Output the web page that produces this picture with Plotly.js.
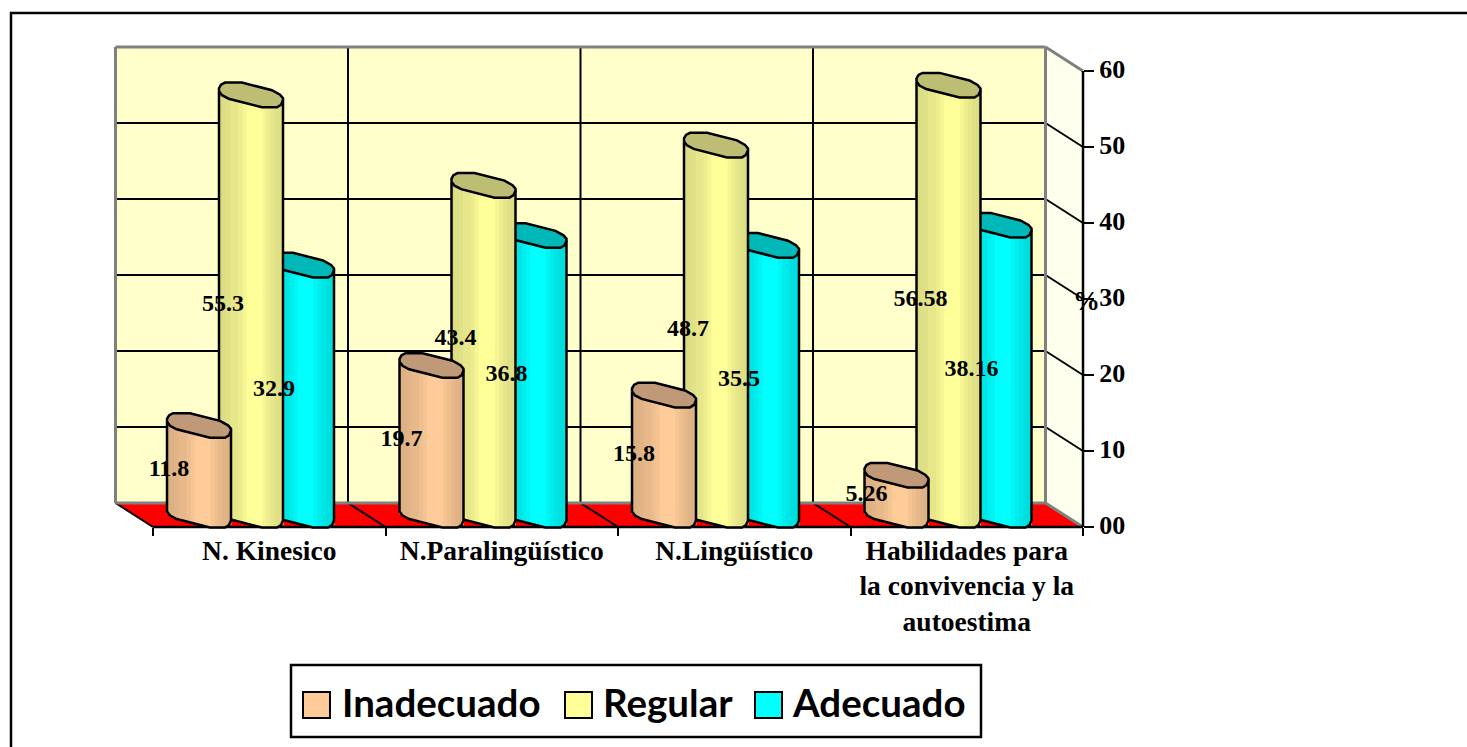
<!DOCTYPE html>
<html>
<head>
<meta charset="utf-8">
<script src="https://cdn.plot.ly/plotly-3.0.1.min.js"></script>
<style>html,body{margin:0;padding:0;background:#fff;overflow:hidden}</style>
</head>
<body>
<div id="chart" style="width:1467px;height:747px"></div>
<script>
// ---- data ----
var categories = ['N. Kinesico', 'N.Paralingüístico', 'N.Lingüístico', 'Habilidades para<br>la convivencia y la<br>autoestima'];
var inadecuado = [11.8, 19.7, 15.8, 5.26];
var regular    = [55.3, 43.4, 48.7, 56.58];
var adecuado   = [32.9, 36.8, 35.5, 38.16];
var valueTicks = [0, 10, 20, 30, 40, 50, 60];
var valueTickText = ['00', '10', '20', '30', '40', '50', '60'];
var seriesNames = ['Inadecuado', 'Regular', 'Adecuado'];

// ---- picture geometry: axes fill the whole page, so one unit = fixed pixels ----
var W = 1467, H = 747;
var pxCat = 232.5, pxVal = 7.6, x0px = 153, y0px = 527;
var depthX = -37.5 / pxCat, depthY = 24 / pxVal;
function X(px) { return (px - x0px) / pxCat; }
function Y(py) { return (y0px - py) / pxVal; }
var dxU = function (d) { return d / pxCat; };

var barW = 64, stripW = 4;
var seriesOffset = { Inadecuado: 14, Regular: 66, Adecuado: 117 };
var labelShift = { Inadecuado: 2, Regular: 4, Adecuado: 4 };
// front rim of a cylinder: [px from left side, px above lowest point]
var rim = [[0, 16], [3, 12], [9.7, 8.5], [43, 0], [58, 0], [62, 2.5], [64, 7]];
var capBack = [[64, 9], [61, 12.5], [53, 17], [23, 24.6], [6, 24.6], [2, 22.5], [0, 19]];
var shade = [0.86, 0.87, 0.88, 0.9, 0.9, 0.93, 0.96, 1, 1, 1, 1, 0.96, 0.93, 0.9, 0.88, 0.87];
var colours = {
  Inadecuado: { rgb: [255, 204, 153], cap: '#C09A78' },
  Regular:    { rgb: [255, 255, 153], cap: '#BDBD73' },
  Adecuado:   { rgb: [0, 255, 255],   cap: '#00B8B8' }
};
var liftBottom = -0.5 / pxVal;

function rimAt(d) {
  for (var i = 1; i < rim.length; i++) {
    if (d <= rim[i][0]) {
      var a = rim[i - 1], b = rim[i];
      return a[1] + (b[1] - a[1]) * (d - a[0]) / (b[0] - a[0]);
    }
  }
  return rim[rim.length - 1][1];
}
function rgbScale(c, m) { return 'rgb(' + c.map(function (v) { return Math.round(v * m); }).join(',') + ')'; }

function buildSeries(name, values, z) {
  var off = seriesOffset[name], col = colours[name];
  var sx = [], sy = [], sb = [], sc = [], sw = [];
  var capX = [], capY = [], outX = [], outY = [];
  values.forEach(function (v, k) {
    var left = k + dxU(off);
    shade.forEach(function (m, i) {
      var d = stripW * (i + 0.5);
      sx.push(left + dxU(d));
      sy.push(v);
      sb.push(liftBottom + rimAt(d) / pxVal);
      sc.push(rgbScale(col.rgb, m));
      sw.push(dxU(stripW + 1));
    });
    // cap polygon
    rim.forEach(function (p) { capX.push(left + dxU(p[0])); capY.push(v + liftBottom + p[1] / pxVal); });
    capBack.forEach(function (p) { capX.push(left + dxU(p[0])); capY.push(v + liftBottom + p[1] / pxVal); });
    capX.push(left + dxU(rim[0][0])); capY.push(v + liftBottom + rim[0][1] / pxVal);
    capX.push(null); capY.push(null);
    // body outline: down left side, along the bottom rim, up right side
    outX.push(left); outY.push(v + liftBottom + rim[0][1] / pxVal);
    rim.forEach(function (p) { outX.push(left + dxU(p[0])); outY.push(liftBottom + p[1] / pxVal); });
    outX.push(left + dxU(barW)); outY.push(v + liftBottom + rim[rim.length - 1][1] / pxVal);
    outX.push(null); outY.push(null);
  });
  return [
    { type: 'bar', x: sx, y: sy, base: sb, width: sw, marker: { color: sc, line: { width: 0 } }, showlegend: false, zorder: z, hoverinfo: 'skip', name: name },
    { type: 'scatter', mode: 'lines', x: capX, y: capY, fill: 'toself', fillcolor: col.cap, line: { color: '#000', width: 2.5 }, showlegend: false, zorder: z, hoverinfo: 'skip' },
    { type: 'scatter', mode: 'lines', x: outX, y: outY, line: { color: '#000', width: 2.5 }, showlegend: false, zorder: z, hoverinfo: 'skip' }
  ];
}

var traces = [];
traces = traces.concat(buildSeries('Adecuado', adecuado, 1));
traces = traces.concat(buildSeries('Regular', regular, 2));
traces = traces.concat(buildSeries('Inadecuado', inadecuado, 3));

// data labels
var labelNudge = { 'Regular1': 1.5 };
function labelTrace(name, values) {
  var xs = [], ys = [], ts = [];
  values.forEach(function (v, k) {
    xs.push(k + dxU(seriesOffset[name] + labelShift[name]));
    ys.push(v / 2 + 1.55 + (labelNudge[name + k] || 0));
    ts.push(String(v));
  });
  return { type: 'scatter', mode: 'text', x: xs, y: ys, text: ts, textposition: 'middle center',
    textfont: { family: 'Liberation Serif', size: 24, color: '#000', weight: 'bold' },
    showlegend: false, zorder: 5, hoverinfo: 'skip' };
}
traces.push(labelTrace('Adecuado', adecuado));
traces.push(labelTrace('Regular', regular));
traces.push(labelTrace('Inadecuado', inadecuado));

// ---- walls, floor, gridlines ----
var shapes = [];
function poly(pts, fill) {
  var d = pts.map(function (p, i) { return (i ? 'L' : 'M') + p[0] + ',' + p[1]; }).join('') + 'Z';
  shapes.push({ type: 'path', path: d, xref: 'x', yref: 'y', fillcolor: fill, line: { width: 0 }, layer: 'below' });
}
function seg(x1, y1, x2, y2, colour, w) {
  shapes.push({ type: 'line', xref: 'x', yref: 'y', x0: x1, y0: y1, x1: x2, y1: y2, line: { color: colour, width: w }, layer: 'below' });
}
var nCat = categories.length, maxVal = 60;
poly([[depthX, depthY], [nCat + depthX, depthY], [nCat + depthX, maxVal + depthY], [depthX, maxVal + depthY]], '#FFFFCC');
poly([[nCat + depthX, depthY], [nCat, 0], [nCat, maxVal], [nCat + depthX, maxVal + depthY]], '#FFFFEE');
poly([[depthX, depthY], [nCat + depthX, depthY], [nCat, 0], [0, 0]], '#FF0000');
valueTicks.slice(1, -1).forEach(function (v) {
  seg(depthX, v + depthY, nCat + depthX, v + depthY, '#000', 2);
  seg(nCat + depthX, v + depthY, nCat, v, '#000', 2);
});
for (var k = 0; k < nCat; k++) {
  if (k > 0) seg(k + depthX, depthY, k + depthX, maxVal + depthY, '#000', 2);
  seg(k + depthX, depthY, k, 0, '#000', 2);
}
var wall = '#808080';
seg(depthX, depthY, depthX, maxVal + depthY, wall, 3);
seg(depthX, maxVal + depthY, nCat + depthX, maxVal + depthY, wall, 3);
seg(depthX, depthY, nCat + depthX, depthY, wall, 3);
seg(nCat + depthX, depthY, nCat + depthX, maxVal + depthY, wall, 3);
seg(nCat + depthX, maxVal + depthY, nCat, maxVal, wall, 3);
seg(nCat + depthX, depthY, nCat, 0, wall, 3);
seg(0, 0, nCat, 0, '#000', 2.5);
seg(nCat, 0, nCat, maxVal, '#000', 2.5);

// page frame and legend box, in page fractions
function pageRect(x1, y1, x2, y2, w, fill) {
  shapes.push({ type: 'rect', xref: 'paper', yref: 'paper', x0: x1 / W, x1: x2 / W, y0: 1 - y2 / H, y1: 1 - y1 / H,
    line: { color: '#000', width: w }, fillcolor: fill, layer: 'below' });
}
pageRect(11, 13, W + 10, H + 10, 2.5, 'rgba(0,0,0,0)');
pageRect(291, 665, 981, 737, 2.5, '#FFFFFF');

// legend: swatch left edge and text left edge for each series
var legendSwatchPx = [303, 565, 755];
var legendTextPx = [343, 604, 793];
var annotations = [{
  text: '%', xref: 'x', yref: 'y', x: X(1086), y: Y(301), showarrow: false,
  font: { family: 'Liberation Serif', size: 27, color: '#000', weight: 'bold' }
}];
seriesNames.forEach(function (n, i) {
  pageRect(legendSwatchPx[i], 692, legendSwatchPx[i] + 27, 718, 2, rgbScale(colours[n].rgb, 1));
  annotations.push({
    text: n, xref: 'paper', yref: 'paper', x: legendTextPx[i] / W, y: 1 - 702 / H,
    xanchor: 'left', yanchor: 'middle', showarrow: false, xshift: -3,
    font: { family: 'Lato', size: 38.5, color: '#000', weight: 'bold' }
  });
});

var layout = {
  width: W, height: H,
  margin: { l: 0, r: 0, t: 0, b: 0, pad: 0 },
  paper_bgcolor: '#FFFFFF', plot_bgcolor: 'rgba(0,0,0,0)',
  barmode: 'overlay', hovermode: false, shapes: shapes, annotations: annotations,
  showlegend: false,
  xaxis: {
    range: [X(0), X(W)], anchor: 'free', position: (H - y0px) / H, fixedrange: true,
    showgrid: false, zeroline: false, showline: false,
    tickmode: 'array', tickvals: categories.map(function (c, i) { return i + 0.5; }), ticktext: categories,
    ticks: '', tickfont: { family: 'Liberation Serif', size: 27.5, color: '#000', weight: 'bold' }, ticklabelstandoff: 4,
    minor: { tickmode: 'array', tickvals: [0, 1, 2, 3, 4], ticks: 'outside', ticklen: 8, tickwidth: 2, tickcolor: '#000', showgrid: false }
  },
  yaxis: {
    range: [Y(H), Y(0)], anchor: 'free', position: (x0px + nCat * pxCat) / W, side: 'right', fixedrange: true,
    showgrid: false, zeroline: false, showline: false,
    tickmode: 'array', tickvals: valueTicks, ticktext: valueTickText, ticklabelshift: -2,
    ticks: 'outside', ticklen: 10, tickwidth: 2, tickcolor: '#000',
    tickfont: { family: 'Liberation Serif', size: 26, color: '#000', weight: 'bold' }
  }
};

Plotly.newPlot('chart', traces, layout, { displayModeBar: false, staticPlot: true });
</script>
</body>
</html>
